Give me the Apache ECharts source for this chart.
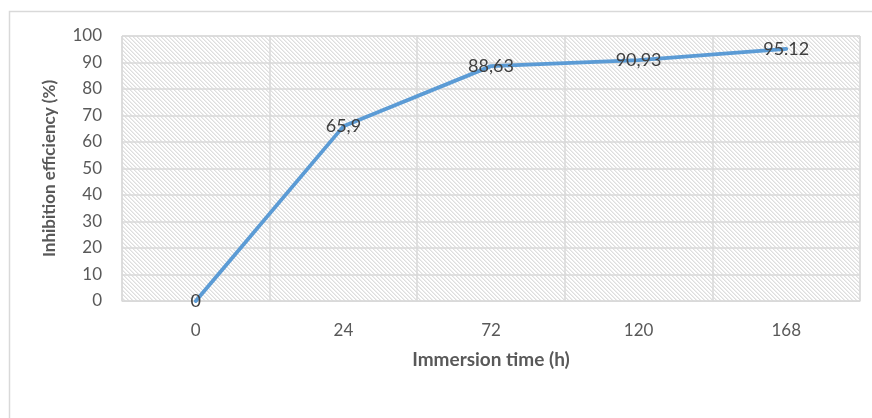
<!DOCTYPE html>
<html>
<head>
<meta charset="utf-8">
<script src="https://cdn.jsdelivr.net/npm/echarts@6/dist/echarts.min.js"></script>
<style>
html,body{margin:0;padding:0;background:#fff;}
#chart{width:872px;height:418px;}
</style>
</head>
<body>
<div id="chart"></div>
<script>
var categories = ['0', '24', '72', '120', '168'];
var efficiency = [0, 65.9, 88.63, 90.93, 95.12];
var pointLabels = ['0', '65,9', '88,63', '90,93', '95.12'];
var yTicks = { min: 0, max: 100, interval: 10 };

function makeHatch() {
  var c = document.createElement('canvas');
  c.width = 4; c.height = 4;
  var ctx = c.getContext('2d');
  ctx.fillStyle = '#ffffff';
  ctx.fillRect(0, 0, 4, 4);
  ctx.fillStyle = '#dedede';
  for (var y = 0; y < 4; y++) {
    ctx.fillRect(y % 4, y, 1, 1);
  }
  ctx.fillStyle = '#ededed';
  for (var y2 = 0; y2 < 4; y2++) {
    ctx.fillRect((y2 + 1) % 4, y2, 1, 1);
  }
  return c;
}

var chart = echarts.init(document.getElementById('chart'), null, { renderer: 'canvas' });
var font = 'Lato, "Open Sans", sans-serif';
chart.setOption({
  animation: false,
  backgroundColor: '#ffffff',
  graphic: [{
    type: 'rect',
    shape: { x: 9.5, y: 11.5, width: 900, height: 450 },
    style: { fill: null, stroke: '#d9d9d9', lineWidth: 1.5 },
    z: 0
  }],
  grid: {
    left: 122, right: 12, top: 36, bottom: 117,
    show: true,
    backgroundColor: { image: makeHatch(), repeat: 'repeat' },
    borderColor: '#d9d9d9', borderWidth: 1
  },
  xAxis: {
    type: 'category',
    data: categories,
    boundaryGap: true,
    name: 'Immersion time (h)',
    nameLocation: 'middle',
    nameGap: 59,
    nameTextStyle: { fontFamily: font, fontSize: 19, fontWeight: 'bold', color: '#595959', verticalAlign: 'middle' },
    axisLine: { show: true, lineStyle: { color: '#d9d9d9', width: 1 } },
    axisTick: { show: false },
    axisLabel: { fontFamily: font, fontSize: 17, color: '#595959', margin: 21 },
    splitLine: { show: true, lineStyle: { color: '#d9d9d9', width: 1.5 } }
  },
  yAxis: {
    type: 'value',
    min: yTicks.min, max: yTicks.max, interval: yTicks.interval,
    name: 'Inhibition efficiency (%)',
    nameLocation: 'middle',
    nameGap: 72,
    nameRotate: 90,
    nameTextStyle: { fontFamily: font, fontSize: 17, fontWeight: 'bold', color: '#595959', verticalAlign: 'middle' },
    axisLine: { show: false },
    axisTick: { show: false },
    axisLabel: { fontFamily: font, fontSize: 17, color: '#595959', margin: 20 },
    splitLine: { show: true, lineStyle: { color: '#d9d9d9', width: 1.5 } }
  },
  series: [{
    type: 'line',
    data: efficiency,
    showSymbol: true,
    symbol: 'circle',
    symbolSize: 1,
    itemStyle: { color: 'rgba(0,0,0,0)' },
    lineStyle: { color: '#5B9BD5', width: 3.8, cap: 'round', join: 'round' },
    label: {
      show: true,
      position: 'inside',
      formatter: function (p) { return pointLabels[p.dataIndex]; },
      fontFamily: font, fontSize: 18, color: '#404040'
    },
    labelLayout: { hideOverlap: false },
    z: 3
  }]
});
</script>
</body>
</html>
